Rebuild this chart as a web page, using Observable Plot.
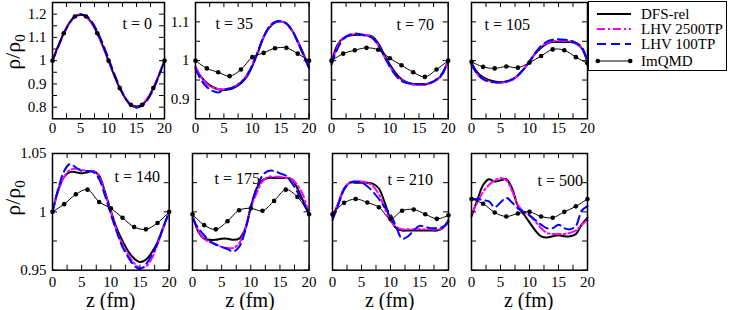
<!DOCTYPE html>
<html><head><meta charset="utf-8">
<script src="https://cdn.jsdelivr.net/npm/d3@7"></script>
<script src="https://cdn.jsdelivr.net/npm/@observablehq/plot@0.6"></script>
<style>
body{margin:0;background:#fff;}
#chart{position:relative;width:730px;height:310px;font-family:"Liberation Serif",serif;color:#000;overflow:hidden;}
#chart svg, #chart svg text, #chart .lab, #legend span{font-family:"Liberation Serif",serif !important;}
.pp{position:absolute;}
.lab{position:absolute;white-space:nowrap;line-height:1;font-weight:normal;}
#legend{position:absolute;left:588px;top:1px;width:139px;height:70px;border:1px solid #000;box-sizing:border-box;background:#fff;font-size:15px;}
#legend .row{position:absolute;left:0;height:16px;}
#legend svg{position:absolute;left:4px;top:0;}
#legend span{position:absolute;left:52px;top:0;line-height:16px;white-space:nowrap;}
</style></head><body><div id="chart"></div>
<script>
// ---------------- data ----------------
const times = [0, 35, 70, 105, 140, 175, 210, 500];
const seriesNames = ["DFS-rel", "LHV 2500TP", "LHV 100TP", "ImQMD"];
const z = [0,1,2,3,4,5,6,7,8,9,10,11,12,13,14,15,16,17,18,19,20];
const zImq = [0,2,4,6,8,10,12,14,16,18,20];
const xMajor = [0,5,10,15,20];
const xMinor = [2.5,7.5,12.5,17.5];

// t = 0
const dfs_0   = [1.000,1.062,1.118,1.162,1.190,1.200,1.190,1.162,1.118,1.062,1.000,0.938,0.882,0.838,0.810,0.800,0.810,0.838,0.882,0.938,1.000];
const lhv2500_0 = [1.000,1.060,1.116,1.160,1.188,1.196,1.188,1.160,1.116,1.060,1.000,0.940,0.884,0.840,0.812,0.803,0.812,0.840,0.884,0.940,1.000];
const lhv100_0  = [1.000,1.058,1.114,1.160,1.190,1.198,1.192,1.168,1.126,1.072,1.010,0.946,0.888,0.840,0.808,0.798,0.806,0.832,0.876,0.934,1.000];
const imq_0   = [1.000,1.118,1.190,1.190,1.118,1.000,0.882,0.810,0.810,0.882,1.000];
// t = 35
const dfs_35  = [0.982,0.958,0.942,0.932,0.926,0.924,0.926,0.932,0.942,0.958,0.986,1.022,1.060,1.085,1.098,1.101,1.096,1.078,1.050,1.018,0.982];
const lhv2500_35 = [0.985,0.957,0.940,0.931,0.927,0.926,0.929,0.935,0.945,0.962,0.990,1.025,1.062,1.087,1.099,1.101,1.095,1.077,1.048,1.015,0.982];
const lhv100_35  = [0.978,0.950,0.932,0.922,0.918,0.925,0.928,0.933,0.943,0.960,0.988,1.024,1.062,1.088,1.100,1.102,1.096,1.078,1.048,1.014,0.980];
const imq_35  = [1.000,0.980,0.970,0.960,0.977,1.009,1.020,1.032,1.033,1.018,1.000];
// t = 70
const dfs_70  = [0.995,1.040,1.058,1.064,1.066,1.066,1.065,1.062,1.045,1.017,0.990,0.968,0.952,0.944,0.940,0.938,0.938,0.943,0.950,0.965,1.000];
const lhv2500_70 = [0.990,1.035,1.058,1.066,1.068,1.067,1.066,1.060,1.040,1.012,0.985,0.963,0.950,0.942,0.938,0.937,0.938,0.942,0.950,0.966,1.000];
const lhv100_70  = [0.990,1.030,1.055,1.066,1.070,1.068,1.064,1.058,1.040,1.012,0.985,0.962,0.948,0.942,0.940,0.940,0.940,0.943,0.952,0.968,1.000];
const imq_70  = [1.000,1.018,1.027,1.033,1.028,1.006,0.988,0.970,0.958,0.977,1.000];
// t = 105
const dfs_105 = [0.995,0.970,0.957,0.950,0.946,0.944,0.946,0.951,0.962,0.978,0.997,1.018,1.033,1.044,1.048,1.048,1.048,1.048,1.044,1.032,0.995];
const lhv2500_105 = [0.990,0.965,0.953,0.947,0.944,0.943,0.945,0.950,0.961,0.978,0.998,1.020,1.036,1.046,1.050,1.051,1.051,1.050,1.045,1.033,1.000];
const lhv100_105  = [0.990,0.966,0.952,0.946,0.944,0.944,0.946,0.952,0.962,0.978,0.998,1.020,1.038,1.049,1.054,1.055,1.054,1.052,1.046,1.035,1.000];
const imq_105 = [0.997,0.984,0.980,0.985,0.982,0.995,1.012,1.029,1.027,1.009,0.993];
// t = 140
const dfs_140 = [1.000,1.019,1.030,1.034,1.034,1.033,1.034,1.035,1.031,1.017,1.001,0.986,0.975,0.966,0.960,0.957,0.959,0.965,0.974,0.987,1.000];
const lhv2500_140 = [1.000,1.018,1.030,1.036,1.037,1.036,1.035,1.035,1.030,1.016,1.000,0.984,0.972,0.963,0.956,0.952,0.953,0.960,0.972,0.986,1.000];
const lhv100_140  = [1.000,1.020,1.035,1.041,1.038,1.035,1.035,1.034,1.028,1.014,0.998,0.983,0.970,0.961,0.954,0.951,0.955,0.963,0.973,0.987,1.000];
const imq_140 = [1.000,1.0066,1.015,1.019,1.0085,1.003,0.995,0.987,0.985,0.9905,1.000];
// t = 175
const dfs_175 = [0.998,0.983,0.977,0.976,0.976,0.977,0.977,0.976,0.977,0.985,1.004,1.020,1.027,1.029,1.029,1.029,1.029,1.028,1.020,1.009,0.998];
const lhv2500_175 = [0.996,0.984,0.977,0.974,0.972,0.970,0.969,0.969,0.973,0.985,1.003,1.016,1.026,1.030,1.030,1.030,1.029,1.028,1.023,1.014,0.998];
const lhv100_175  = [0.994,0.986,0.980,0.975,0.972,0.970,0.968,0.966,0.970,0.983,1.004,1.020,1.031,1.035,1.035,1.033,1.031,1.025,1.017,1.008,0.998];
const imq_175 = [0.998,0.9886,0.985,0.992,1.0014,1.003,1.001,1.0094,1.019,1.0128,0.998];
// t = 210
const dfs_210 = [0.996,1.007,1.020,1.025,1.025,1.025,1.025,1.024,1.020,1.008,0.994,0.986,0.984,0.984,0.984,0.984,0.984,0.984,0.984,0.986,0.993];
const lhv2500_210 = [0.995,1.008,1.020,1.025,1.026,1.026,1.025,1.022,1.015,1.003,0.992,0.987,0.985,0.985,0.985,0.985,0.985,0.985,0.985,0.986,0.992];
const lhv100_210  = [0.993,1.006,1.019,1.025,1.026,1.025,1.022,1.017,1.011,1.004,0.998,0.987,0.977,0.979,0.984,0.988,0.987,0.986,0.986,0.987,0.991];
const imq_210 = [0.998,1.0077,1.011,1.008,1.004,0.994,1.001,1.002,0.998,0.994,0.997];
// t = 500
const dfs_500 = [0.996,1.010,1.023,1.028,1.026,1.027,1.028,1.020,1.005,0.998,0.991,0.984,0.979,0.978,0.979,0.980,0.979,0.979,0.981,0.989,0.995];
const lhv2500_500 = [0.998,1.008,1.017,1.023,1.027,1.029,1.027,1.018,1.006,1.000,0.997,0.992,0.986,0.982,0.981,0.981,0.981,0.982,0.984,0.989,0.993];
const lhv100_500  = [1.011,1.011,1.010,1.009,1.004,1.008,1.012,1.008,1.003,1.000,0.997,0.993,0.989,0.986,0.986,0.989,0.986,0.985,0.988,1.001,1.005];
const imq_500 = [1.011,1.007,0.9995,0.996,0.9986,1.000,0.996,0.995,1.000,1.0047,1.011];

const dfs = [dfs_0, dfs_35, dfs_70, dfs_105, dfs_140, dfs_175, dfs_210, dfs_500];
const lhv2500 = [lhv2500_0, lhv2500_35, lhv2500_70, lhv2500_105, lhv2500_140, lhv2500_175, lhv2500_210, lhv2500_500];
const lhv100 = [lhv100_0, lhv100_35, lhv100_70, lhv100_105, lhv100_140, lhv100_175, lhv100_210, lhv100_500];
const imq = [imq_0, imq_35, imq_70, imq_105, imq_140, imq_175, imq_210, imq_500];

// y-axis tick values
const yTop1Major = [0.8,0.9,1,1.1,1.2], yTop1Minor = [0.85,0.95,1.05,1.15];
const yTopMajor = [0.9,1,1.1], yTopMinor = [0.95,1.05];
const yBotMajor = [0.95,1,1.05], yBotMinor = [0.975,1.025];

// ---------------- layout (pixels) ----------------
const panels = [
  {l:52.3, t:1.7,   w:112,   h:116.3, yd:[0.75,1.25], yM:yTop1Major, ym:yTop1Minor, showY:true,  lx:70,  ly:21},
  {l:194.7,t:1.7,   w:113.6, h:116.3, yd:[0.85,1.15], yM:yTopMajor,  ym:yTopMinor,  showY:true,  lx:20,  ly:21},
  {l:331,  t:1.7,   w:116.7, h:116.3, yd:[0.85,1.15], yM:yTopMajor,  ym:yTopMinor,  showY:false, lx:65,  ly:22},
  {l:470.7,t:1.7,   w:116,   h:116.3, yd:[0.85,1.15], yM:yTopMajor,  ym:yTopMinor,  showY:false, lx:13,  ly:22},
  {l:52.3, t:153.3, w:116.7, h:116.7, yd:[0.95,1.05], yM:yBotMajor,  ym:yBotMinor,  showY:true,  lx:62,  ly:23},
  {l:191.7,t:153.3, w:116.6, h:116.7, yd:[0.95,1.05], yM:yBotMajor,  ym:yBotMinor,  showY:false, lx:22,  ly:25},
  {l:331.7,t:153.3, w:116,   h:116.7, yd:[0.95,1.05], yM:yBotMajor,  ym:yBotMinor,  showY:false, lx:55,  ly:26},
  {l:470.7,t:153.3, w:116,   h:116.7, yd:[0.95,1.05], yM:yBotMajor,  ym:yBotMinor,  showY:false, lx:66,  ly:27}
];

const chart = document.getElementById("chart");
const mL = 45, mR = 12, mT = 6, mB = 24;
const TK = 5;
const FONT = "'Liberation Serif', serif";
const rows = (xs, ys) => xs.map((x, i) => ({x, y: ys[i]}));

panels.forEach((p, i) => {
  const W = p.w, H = p.h;
  const xt = xMajor.concat(xMinor), yt = p.yM.concat(p.ym);
  const marks = [
    Plot.line(rows(z, dfs[i]), {x:"x", y:"y", stroke:"#000", strokeWidth:2, curve:"catmull-rom"}),
    Plot.line(rows(z, lhv2500[i]), {x:"x", y:"y", stroke:"#ff00ff", strokeWidth:2, strokeDasharray:"8,3,2,3", curve:"catmull-rom"}),
    Plot.line(rows(z, lhv100[i]), {x:"x", y:"y", stroke:"#0000ff", strokeWidth:2, strokeDasharray:"9,5", curve:"catmull-rom"}),
    Plot.line(rows(zImq, imq[i]), {x:"x", y:"y", stroke:"#000", strokeWidth:1, curve:"catmull-rom"}),
    Plot.dot(rows(zImq, imq[i]), {x:"x", y:"y", fill:"#000", r:2.3}),
    Plot.tickX(xt, {x:d=>d, insetTop:H-TK, stroke:"#000", strokeWidth:1}),
    Plot.tickX(xt, {x:d=>d, insetBottom:H-TK, stroke:"#000", strokeWidth:1}),
    Plot.tickY(yt, {y:d=>d, insetRight:W-TK, stroke:"#000", strokeWidth:1}),
    Plot.tickY(yt, {y:d=>d, insetLeft:W-TK, stroke:"#000", strokeWidth:1}),
    Plot.frame({stroke:"#000", strokeWidth:1.5}),
    Plot.axisX(xMajor, {tickSize:0, tickPadding:i<4?4:6, fontSize:15, fontFamily:FONT, label:null, tickFormat:d=>String(d)}),
    Plot.text([`t = ${times[i]}`], {frameAnchor:"top-left", dx:p.lx, dy:p.ly, textAnchor:"start", lineAnchor:"middle", fontSize:16, fontFamily:FONT})
  ];
  if (p.showY) marks.push(Plot.axisY(p.yM, {tickSize:0, tickPadding:6, fontSize:15, fontFamily:FONT, label:null, tickFormat:d=>String(d)}));
  const svg = Plot.plot({
    width: W + mL + mR, height: H + mT + mB,
    marginLeft: mL, marginRight: mR, marginTop: mT, marginBottom: mB,
    x: {domain:[0,20], axis:null},
    y: {domain:p.yd, axis:null},
    style: {fontFamily:FONT, fontSize:"15px", background:"transparent", color:"#000", overflow:"visible"},
    marks
  });
  svg.classList.add("pp");
  svg.style.left = (p.l - mL) + "px";
  svg.style.top = (p.t - mT) + "px";
  chart.appendChild(svg);
});

// axis titles
[0,1,2,3].forEach(j => {
  const p = panels[4 + j];
  const d = document.createElement("div");
  d.className = "lab";
  d.style.fontSize = "20px";
  d.style.left = (p.l + p.w / 2) + "px";
  d.style.top = "300px";
  d.style.transform = "translate(-50%,-50%)";
  d.textContent = "z (fm)";
  chart.appendChild(d);
});
[[15, 52], [15, 198]].forEach(([cx, cy]) => {
  const d = document.createElement("div");
  d.className = "lab";
  d.style.fontSize = "22px";
  d.style.left = cx + "px";
  d.style.top = cy + "px";
  d.style.transform = "translate(-50%,-50%) rotate(-90deg)";
  d.innerHTML = "ρ/ρ<sub style='font-size:15px;vertical-align:-5px'>0</sub>";
  chart.appendChild(d);
});

// legend
const legend = document.createElement("div");
legend.id = "legend";
const styles = [
  {stroke:"#000", w:2, dash:"", dot:false},
  {stroke:"#ff00ff", w:2, dash:"8,3,2,3", dot:false},
  {stroke:"#0000ff", w:2, dash:"9,5", dot:false},
  {stroke:"#000", w:1, dash:"", dot:true}
];
const rowY = [4, 19, 34, 51];
seriesNames.forEach((name, k) => {
  const s = styles[k];
  const r = document.createElement("div");
  r.className = "row";
  r.style.top = rowY[k] + "px";
  r.innerHTML = `<svg width="42" height="16"><line x1="4" x2="38" y1="8" y2="8" stroke="${s.stroke}" stroke-width="${s.w}" ${s.dash ? `stroke-dasharray="${s.dash}"` : ""}/>` +
    (s.dot ? `<circle cx="4.8" cy="8" r="2.3" fill="#000"/><circle cx="37.2" cy="8" r="2.3" fill="#000"/>` : "") +
    `</svg><span>${name}</span>`;
  legend.appendChild(r);
});
chart.appendChild(legend);
</script>
</body></html>
